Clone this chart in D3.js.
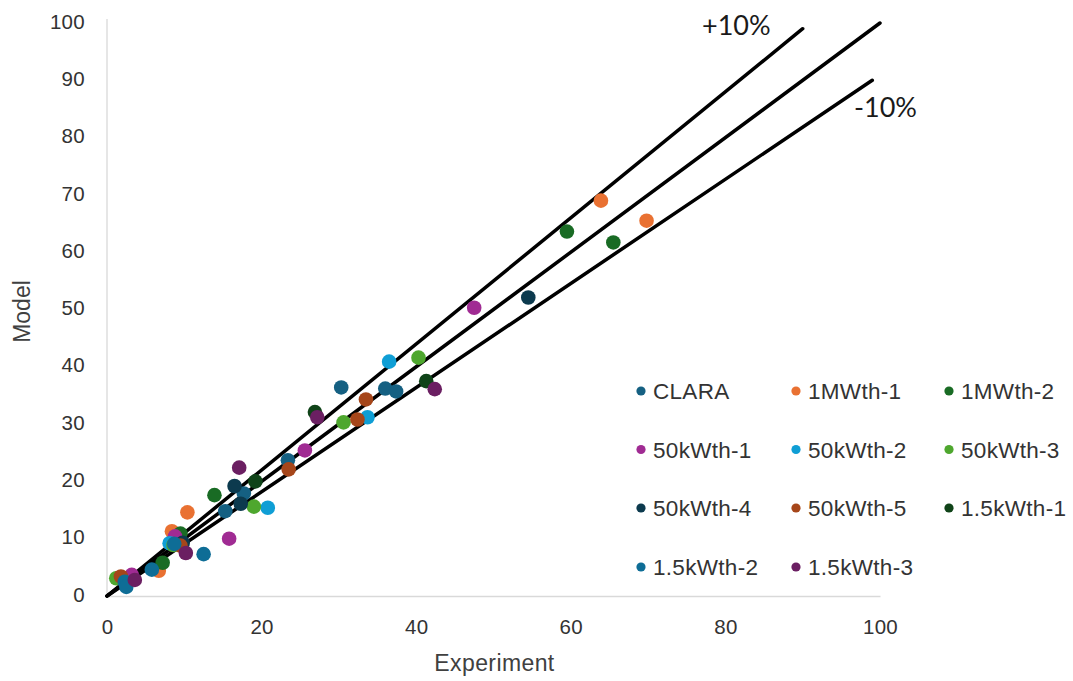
<!DOCTYPE html>
<html>
<head>
<meta charset="utf-8">
<script src="https://cdn.jsdelivr.net/npm/d3@7"></script>
<style>
  html, body { margin: 0; padding: 0; background: #fff; }
  svg { display: block; }
</style>
</head>
<body>
<svg id="chart" width="1073" height="681"></svg>
<script>
// Experiment vs. model values, one array of [experiment, model] pairs per unit
const CLARA      = [[30.3, 36.4], [36.0, 36.2], [37.4, 35.7], [23.4, 23.7], [17.7, 17.9], [15.3, 14.8]];
const MWth1      = [[63.9, 69.0], [69.8, 65.5], [10.4, 14.6], [8.4, 11.3], [6.7, 4.4]];
const MWth2      = [[59.5, 63.6], [65.5, 61.7], [13.9, 17.6], [9.5, 10.9], [7.2, 5.8]];
const kWth50_1   = [[47.5, 50.3], [25.6, 25.4], [15.8, 10.0], [8.8, 10.4], [3.2, 3.7]];
const kWth50_2   = [[36.5, 40.9], [33.7, 31.2], [20.8, 15.4], [8.1, 9.2]];
const kWth50_3   = [[40.3, 41.6], [30.6, 30.3], [19.0, 15.6], [8.6, 8.9], [1.2, 3.1]];
const kWth50_4   = [[54.5, 52.1], [16.5, 19.2], [17.3, 16.1], [9.8, 9.3]];
const kWth50_5   = [[33.5, 34.3], [32.4, 30.8], [23.5, 22.1], [9.5, 8.8], [1.8, 3.4]];
const kWth15_1   = [[41.3, 37.5], [26.9, 32.1], [19.2, 20.0]];
const kWth15_2   = [[12.5, 7.3], [5.8, 4.6], [2.3, 2.5], [2.5, 1.6], [8.7, 9.1]];
const kWth15_3   = [[42.4, 36.1], [27.2, 31.2], [17.1, 22.4], [10.2, 7.5], [3.6, 2.8]];

const seriesNames  = ["CLARA", "1MWth-1", "1MWth-2", "50kWth-1", "50kWth-2", "50kWth-3",
                      "50kWth-4", "50kWth-5", "1.5kWth-1", "1.5kWth-2", "1.5kWth-3"];
const seriesValues = [CLARA, MWth1, MWth2, kWth50_1, kWth50_2, kWth50_3,
                      kWth50_4, kWth50_5, kWth15_1, kWth15_2, kWth15_3];
const seriesColors = ["#156082", "#E97132", "#196B24", "#A02B93", "#0F9ED5", "#4EA72E",
                      "#0C3A4E", "#A6461A", "#0F4318", "#0E6D96", "#6B1F62"];

// Parity line and ±10 % bands, as end points
const parityLine  = [[0, 0], [100, 100]];
const plus10Line  = [[0, 0], [90, 99]];
const minus10Line = [[0, 0], [99, 90]];
const bandLabels  = ["+10%", "-10%"];

const xTicks = [0, 20, 40, 60, 80, 100];
const yTicks = [0, 10, 20, 30, 40, 50, 60, 70, 80, 90, 100];

const svg = d3.select("#chart");
const x = d3.scaleLinear().domain([0, 100]).range([107, 880]);
const y = d3.scaleLinear().domain([0, 100]).range([596, 23]);

const textFont = "'Liberation Sans', Arial, sans-serif";

// Axes: light grey lines, no tick marks
const xAxis = d3.axisBottom(x).tickValues(xTicks).tickSize(0).tickPadding(23);
const yAxis = d3.axisLeft(y).tickValues(yTicks).tickSize(0).tickPadding(22);

const gx = svg.append("g").attr("transform", `translate(0,${y(0)})`).call(xAxis);
const gy = svg.append("g").attr("transform", `translate(${x(0)},0)`).call(yAxis);
[gx, gy].forEach(g => {
  g.select(".domain").attr("stroke", "#d9d9d9").attr("stroke-width", 1.3);
  g.selectAll("text")
    .attr("fill", "#333333")
    .style("font-family", textFont)
    .style("font-size", "20.5px")
    .style("letter-spacing", "0.3px");
});
gy.select(".domain").attr("d", `M0,${y(0)}V${y(100) - 4}`);
gy.selectAll("text").attr("dy", "0.25em");

// Axis titles
svg.append("text")
  .attr("x", (x(0) + x(100)) / 2 + 1)
  .attr("y", 671)
  .attr("text-anchor", "middle")
  .attr("fill", "#404040")
  .style("font-family", textFont)
  .style("font-size", "23px")
  .style("letter-spacing", "0.4px")
  .text("Experiment");

svg.append("text")
  .attr("transform", `translate(30,${(y(0) + y(100)) / 2 + 2}) rotate(-90)`)
  .attr("text-anchor", "middle")
  .attr("fill", "#404040")
  .style("font-family", textFont)
  .style("font-size", "23px")
  .text("Model");

// Reference lines
const line = d3.line().x(d => x(d[0])).y(d => y(d[1]));
[plus10Line, parityLine, minus10Line].forEach(pts => {
  svg.append("path")
    .attr("d", line(pts))
    .attr("fill", "none")
    .attr("stroke", "#000")
    .attr("stroke-width", 3.5)
    .attr("stroke-linecap", "round");
});

// Band labels
svg.append("text")
  .attr("x", 702).attr("y", 35)
  .attr("fill", "#1a1a1a")
  .style("font-family", "Lato, Carlito, sans-serif")
  .style("font-size", "27px")
  .text(bandLabels[0]);
svg.append("text")
  .attr("x", 854).attr("y", 117)
  .attr("fill", "#1a1a1a")
  .style("font-family", "Lato, Carlito, sans-serif")
  .style("font-size", "27px")
  .text(bandLabels[1]);

// Scatter points, series drawn in order
seriesValues.forEach((pts, i) => {
  svg.append("g")
    .selectAll("circle")
    .data(pts)
    .join("circle")
    .attr("cx", d => x(d[0]))
    .attr("cy", d => y(d[1]))
    .attr("r", 7.3)
    .attr("fill", seriesColors[i]);
});

// Legend: 3 columns
const legendCols = [641, 796, 949];
const legendRows = [391, 449.5, 508, 567];
const legend = svg.append("g");
seriesNames.forEach((name, i) => {
  const cx = legendCols[i % 3];
  const cy = legendRows[Math.floor(i / 3)];
  legend.append("circle")
    .attr("cx", cx).attr("cy", cy).attr("r", 4.6)
    .attr("fill", seriesColors[i]);
  legend.append("text")
    .attr("x", cx + 12).attr("y", cy)
    .attr("dy", "0.36em")
    .attr("fill", "#333333")
    .style("font-family", textFont)
    .style("font-size", "22.5px")
    .style("letter-spacing", "0.3px")
    .text(name);
});
</script>
</body>
</html>
